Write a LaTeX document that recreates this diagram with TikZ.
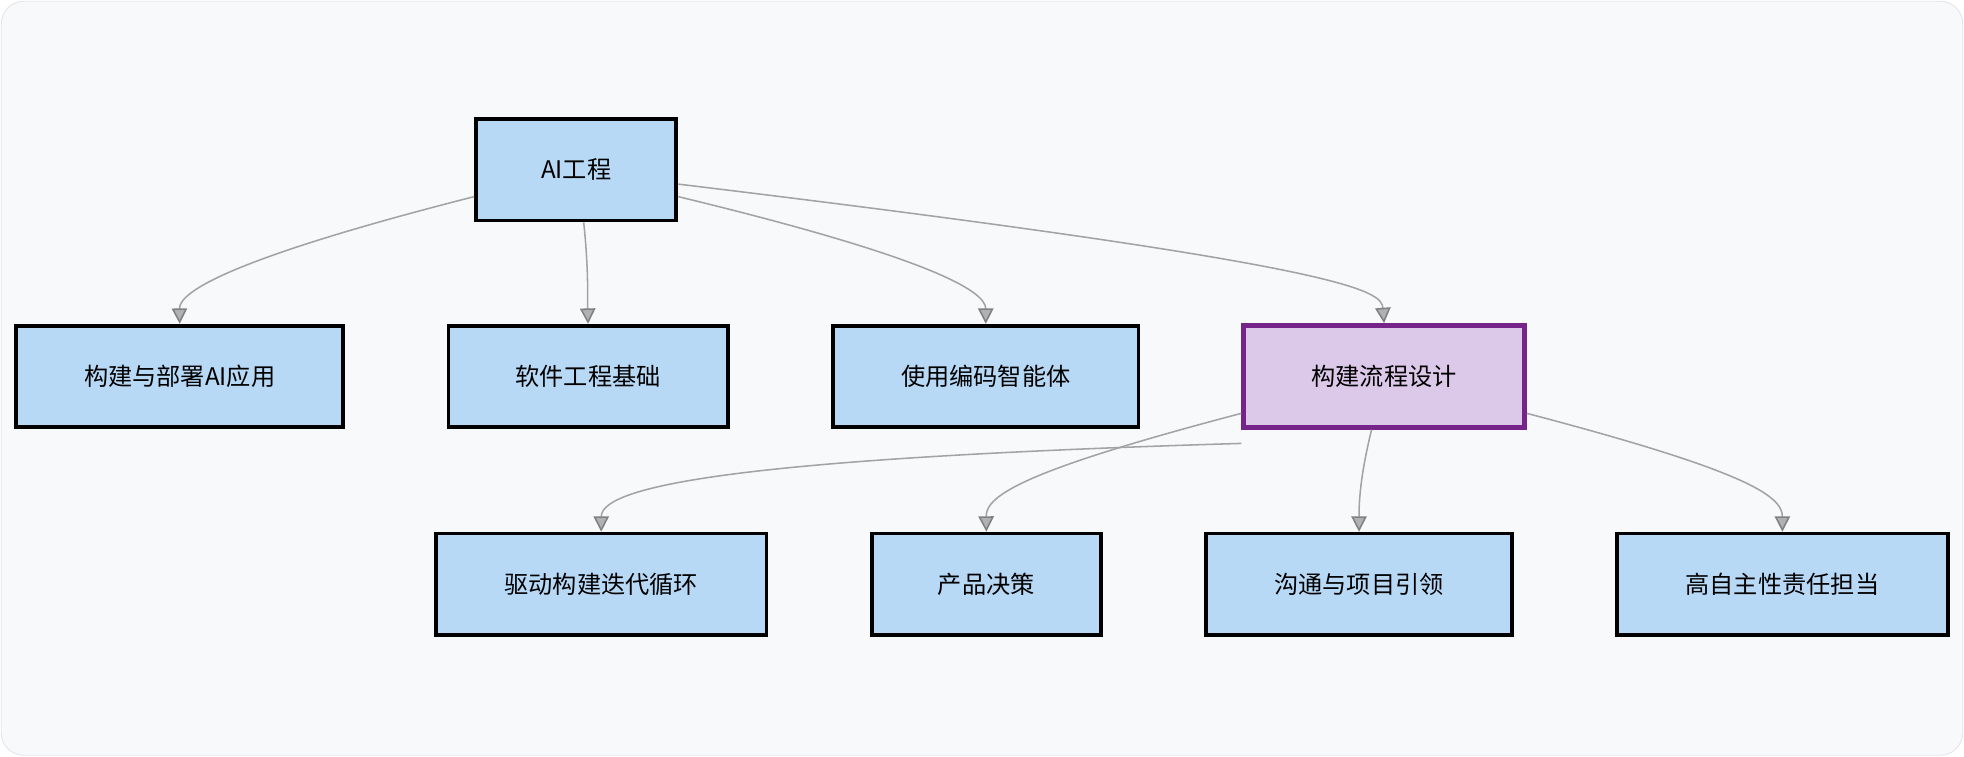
\documentclass[tikz,border=0pt]{standalone}
\usepackage{fontspec}
\setmainfont{Noto Sans CJK SC}
\usetikzlibrary{arrows.meta}
\definecolor{bgfill}{HTML}{F8F9FB}
\definecolor{bgline}{HTML}{E3E5E8}
\definecolor{boxblue}{HTML}{B8D9F6}
\definecolor{boxlilac}{HTML}{DCC8E8}
\definecolor{boxpurple}{HTML}{76248A}
\definecolor{linkgray}{HTML}{A3A3A3}
\tikzset{
    every node/.style={font=\fontsize{11}{13}\selectfont},
    topic/.style={
        draw=black,
        line width=1.7pt,
        fill=boxblue,
        minimum height=1.62cm},
    focus/.style={
        topic,
        draw=boxpurple,
        line width=2.3pt,
        fill=boxlilac},
    link/.style={
        draw=linkgray,
        line width=0.7pt,
        -{Triangle[length=7pt,width=7pt,fill=linkgray!85,color=gray]}}}

\begin{document}
\begin{tikzpicture}[x=0.02cm,y=-0.02cm]
        \useasboundingbox (0,0) rectangle (1568,604);
        \draw[fill=bgfill,draw=bgline,rounded corners=0.36cm] (1,1) rectangle (1567,603);

        \node[topic,minimum width=3.2cm] (ai) at (460,135.5) {AI工程};
        \node[topic,minimum width=5.22cm] (b1) at (143.5,300.5) {构建与部署AI应用};
        \node[topic,minimum width=4.46cm] (b2) at (469.5,300.5) {软件工程基础};
        \node[topic,minimum width=4.88cm] (b3) at (787,300.5) {使用编码智能体};
        \node[focus,minimum width=4.48cm] (b4) at (1105,300.5) {构建流程设计};
        \node[topic,minimum width=5.28cm] (c1) at (480,466.5) {驱动构建迭代循环};
        \node[topic,minimum width=3.66cm] (c2) at (787.5,466.5) {产品决策};
        \node[topic,minimum width=4.88cm] (c3) at (1085,466.5) {沟通与项目引领};
        \node[topic,minimum width=5.28cm] (c4) at (1423,466.5) {高自主性责任担当};

        \draw[link] ([yshift=-0.43cm]ai.west) .. controls (190,205) and (143,232) .. (b1.north);
        \draw[link] ([xshift=0.12cm]ai.south) .. controls (470,215) and (469,238) .. (b2.north);
        \draw[link] ([yshift=-0.43cm]ai.east) .. controls (740,205) and (787,232) .. (b3.north);
        \draw[link] ([yshift=-0.23cm]ai.east) .. controls (1080,212) and (1103,232) .. (b4.north);

        \draw[link] ([yshift=-0.22cm]b4.south west) .. controls (620,365) and (480,385) .. (c1.north);
        \draw[link] ([yshift=0.26cm]b4.south west) .. controls (820,375) and (787,395) .. (c2.north);
        \draw[link] ([xshift=-0.2cm]b4.south) .. controls (1086,380) and (1085,400) .. (c3.north);
        \draw[link] ([yshift=0.26cm]b4.south east) .. controls (1390,375) and (1423,395) .. (c4.north);

        % the long link runs behind this box
        \node[topic,minimum width=4.88cm] at (b3) {使用编码智能体};
\end{tikzpicture}
\end{document}
